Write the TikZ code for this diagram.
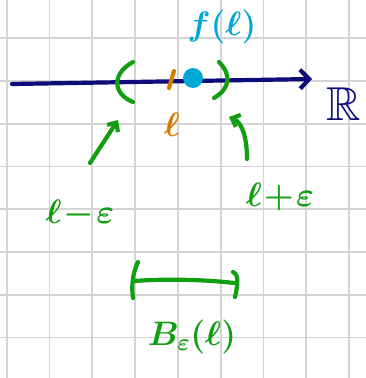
\RequirePackage{fix-cm}
\documentclass[tikz,border=0pt]{standalone}
\usepackage{amsmath,amssymb}
\usetikzlibrary{arrows.meta}

\definecolor{navyink}{RGB}{12,12,122}
\definecolor{greenink}{RGB}{17,158,17}
\definecolor{orangeink}{RGB}{217,122,0}
\definecolor{cyanink}{RGB}{0,168,214}
\definecolor{gridgray}{RGB}{212,212,212}

\begin{document}
\begin{tikzpicture}[x=1pt, y=-1pt, >={Straight Barb[length=7pt,width=13pt]},
	   font=\fontsize{34}{36}\selectfont\boldmath,
	   gl/.style={draw=gridgray, line width=1.8pt},
	   pen/.style={line width=4.2pt, line cap=round, line join=round},
	   lbl/.style={inner sep=0pt}]
	  \useasboundingbox[fill=white] (0,0) rectangle (366,378);
	  % squared paper
	  \foreach \i in {0,...,8} \draw[gl] (6.7+42.8*\i,0) -- ++(0,378);
	  \foreach \j in {0,...,7} \draw[gl] (0,38.3+42.75*\j) -- ++(366,0);
	  % real line
	  \coordinate (ax0) at (12,84);
	  \coordinate (ax1) at (312,79);
	  \draw[pen, navyink, -{Straight Barb[length=9pt,width=19pt]}] (ax0) -- (ax1);
	  \node[lbl, text=navyink, scale=1.4] (R) at (344,104) {$\mathbb{R}$};
	  % neighbourhood brackets
	  \draw[pen, greenink] (133,62) .. controls (111,74) and (113,94) .. (133,102);
	  \draw[pen, greenink] (219,62) .. controls (231,74) and (231,88) .. (214,98);
	  % the point l and its image
	  \draw[pen, orangeink] (174,71) -- (169,88);
	  \fill[cyanink] (193,78) circle (10);
	  \node[lbl, text=cyanink] (fl) at (222,27) {$f(\ell)$};
	  \node[lbl, text=orangeink] (ell) at (172,125) {$\ell$};
	  % end points
	  \node[lbl, text=greenink] (lme) at (80,214) {$\ell\!-\!\varepsilon$};
	  \node[lbl, text=greenink] (lpe) at (280,197) {$\ell\!+\!\varepsilon$};
	  \coordinate (lmtail) at (90,163);
	  \coordinate (lmhead) at (118,120);
	  \coordinate (lptail) at (247,159);
	  \coordinate (lphead) at (229,117);
	  \draw[pen, greenink, ->] (lmtail) -- (lmhead);
	  \draw[pen, greenink, ->] (lptail) .. controls (247,135) and (241,122) .. (lphead);
	  % the ball
	  \coordinate (bl) at (134,281);
	  \coordinate (br) at (234,283);
	  \draw[pen, greenink] (138,262) .. controls (133,272) and (131,286) .. (133,298);
	  \draw[pen, greenink] (bl) .. controls (160,279) and (200,279) .. (br);
	  \draw[pen, greenink] (233,272) .. controls (240,275) and (237,288) .. (235,297);
	  \node[lbl, text=greenink] (ball) at (192,337) {$B_{\varepsilon}(\ell)$};
	\end{tikzpicture}
\end{document}
